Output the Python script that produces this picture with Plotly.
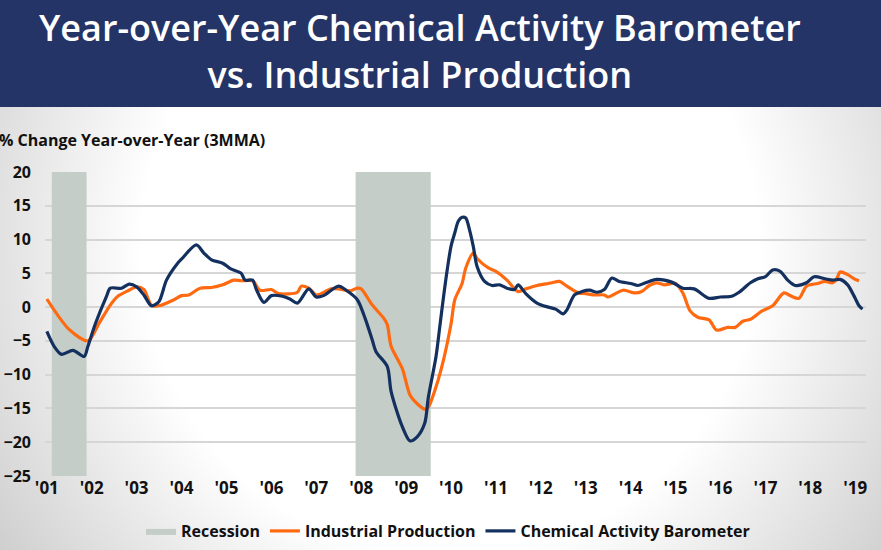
import base64
import plotly.graph_objects as go

# Industrial Production, % change y/y (3MMA)
ip_dates = [
    "2001-01", "2001-07", "2001-12",
    "2002-03", "2002-06", "2002-08", "2002-11",
    "2003-01", "2003-03", "2003-05", "2003-07", "2003-11",
    "2004-01", "2004-03", "2004-06", "2004-09", "2004-12",
    "2005-03", "2005-05", "2005-08", "2005-10",
    "2006-01", "2006-03", "2006-08", "2006-09", "2006-11",
    "2007-01", "2007-05", "2007-07", "2007-10", "2007-12",
    "2008-01", "2008-04", "2008-07", "2008-08", "2008-09", "2008-12",
    "2009-02", "2009-04", "2009-06", "2009-07", "2009-09", "2009-11",
    "2010-01", "2010-02", "2010-04", "2010-05", "2010-07", "2010-08", "2010-11",
    "2011-01", "2011-04", "2011-07", "2011-09", "2011-12",
    "2012-03", "2012-04", "2012-06", "2012-08", "2012-11",
    "2013-01", "2013-03", "2013-06", "2013-07", "2013-11",
    "2014-02", "2014-04", "2014-06", "2014-08", "2014-10",
    "2015-01", "2015-03", "2015-05", "2015-07", "2015-10", "2015-12",
    "2016-03", "2016-05", "2016-07", "2016-09", "2016-12",
    "2017-03", "2017-06", "2017-08", "2017-10", "2017-12",
    "2018-03", "2018-05", "2018-07", "2018-08", "2018-09", "2018-11",
    "2019-01", "2019-02",
]
ip_values = [
    1.2, -3.3, -5.0,
    -2.4, 0.3, 1.6, 2.5,
    3.0, 2.6, 0.3, 0.2, 1.1,
    1.7, 1.8, 2.8, 2.9, 3.3,
    4.0, 3.9, 3.9, 2.5,
    2.6, 2.0, 2.2, 3.1, 2.8,
    1.8, 2.7, 2.7, 2.4, 2.8,
    2.7, 0.3, -1.6, -2.6, -5.8, -9.1,
    -13.0, -14.3, -15.1, -14.8, -11.8, -7.8,
    -2.5, 1.1, 3.5, 5.8, 8.0, 7.2, 5.8,
    5.3, 4.0, 2.3, 2.7, 3.2,
    3.5, 3.6, 3.8, 3.1, 2.1,
    2.0, 1.8, 1.8, 1.5, 2.5,
    2.1, 2.3, 3.2, 3.6, 3.3,
    3.5, 2.1, -0.6, -1.5, -1.9, -3.4,
    -3.0, -3.0, -2.1, -1.8, -0.6,
    0.2, 2.1, 1.6, 1.3, 3.1,
    3.5, 3.8, 3.6, 4.1, 5.2, 4.8,
    4.1, 3.9,
]

# Chemical Activity Barometer, % change y/y (3MMA)
cab_dates = [
    "2001-01", "2001-03", "2001-05", "2001-08", "2001-11", "2001-12",
    "2002-02", "2002-05", "2002-06", "2002-09", "2002-11",
    "2003-01", "2003-03", "2003-05", "2003-07", "2003-09", "2003-12",
    "2004-01", "2004-05", "2004-07", "2004-09", "2004-12",
    "2005-02", "2005-05", "2005-06", "2005-08", "2005-09", "2005-11",
    "2006-01", "2006-04", "2006-06", "2006-08", "2006-11",
    "2007-01", "2007-03", "2007-07", "2007-09", "2007-12",
    "2008-02", "2008-04", "2008-05", "2008-08", "2008-09", "2008-12",
    "2009-02", "2009-04", "2009-06", "2009-07", "2009-09", "2009-10", "2009-11", "2009-12",
    "2010-01", "2010-02", "2010-03", "2010-04", "2010-05", "2010-06", "2010-07", "2010-08",
    "2010-10", "2010-12",
    "2011-02", "2011-04", "2011-06", "2011-07", "2011-09", "2011-12",
    "2012-03", "2012-05", "2012-07", "2012-08", "2012-10", "2012-12",
    "2013-02", "2013-04", "2013-06", "2013-08", "2013-10",
    "2014-01", "2014-03", "2014-05", "2014-08", "2014-12",
    "2015-03", "2015-06", "2015-10",
    "2016-01", "2016-04", "2016-06", "2016-09", "2016-11",
    "2017-01", "2017-03", "2017-05", "2017-07", "2017-09", "2017-12",
    "2018-02", "2018-05", "2018-07", "2018-09", "2018-11",
    "2019-01", "2019-02", "2019-03",
]
cab_values = [
    -3.6, -5.8, -7.0, -6.4, -7.3, -5.8,
    -2.4, 1.6, 2.8, 2.8, 3.4,
    3.0, 1.8, 0.2, 0.8, 4.0, 6.5,
    7.1, 9.2, 8.0, 7.0, 6.5,
    5.7, 5.0, 4.0, 4.0, 2.6, 0.7,
    1.7, 1.6, 1.2, 0.6, 2.7,
    1.5, 1.7, 3.1, 2.5, 1.1,
    -1.6, -4.9, -6.6, -8.8, -12.5, -17.7,
    -19.8, -19.2, -17.2, -13.3, -7.3, -3.0, 1.5, 5.5,
    9.0, 11.0, 12.7, 13.3, 13.2, 11.4, 9.0, 6.0,
    3.8, 3.2,
    3.3, 2.8, 2.6, 3.3, 2.0, 0.6,
    0.0, -0.3, -1.0, -0.4, 1.8, 2.3,
    2.5, 2.2, 2.6, 4.3, 3.8,
    3.5, 3.2, 3.6, 4.1, 3.7,
    2.8, 2.7, 1.3,
    1.5, 1.6, 2.2, 3.6, 4.2,
    4.5, 5.5, 5.3, 4.0, 3.2, 3.6,
    4.5, 4.2, 4.0, 4.1, 3.3,
    1.3, 0.2, -0.3,
]

# recession periods (shaded)
rec_start = ["2001-02-10", "2007-11-17"]
rec_end = ["2001-11-20", "2009-07-20"]

year_ticks = [f"{y}-01-01" for y in range(2001, 2020)]
year_labels = ["'01", "'02", "'03", "'04", "'05", "'06", "'07", "'08", "'09", "'10",
               "'11", "'12", "'13", "'14", "'15", "'16", "'17", "'18", "'19"]

Y_MIN, Y_MAX = -25, 20

# page geometry in pixels
W, H = 881, 550
L, R, T, B = 45, 15, 172, 74
PW, PH = W - L - R, H - T - B


def px(x):
    return (x - L) / PW


def py(y):
    return (H - B - y) / PH


FONT = "Open Sans"
NAVY = "#13305e"
ORANGE = "#ff6a10"
INK = "#111111"

# recession rectangles as one filled trace
rx, ry = [], []
for s, e in zip(rec_start, rec_end):
    rx += [s, s, e, e, s, None]
    ry += [Y_MIN, Y_MAX, Y_MAX, Y_MIN, Y_MIN, None]

fig = go.Figure()
fig.add_trace(go.Scatter(x=rx, y=ry, fill="toself", fillcolor="#c4cdc8",
                         mode="lines", line=dict(width=0), name="Recession",
                         hoverinfo="skip"))
fig.add_trace(go.Scatter(x=ip_dates, y=ip_values, mode="lines", name="Industrial Production",
                         line=dict(color=ORANGE, width=3.2, shape="spline", smoothing=0.8)))
fig.add_trace(go.Scatter(x=cab_dates, y=cab_values, mode="lines", name="Chemical Activity Barometer",
                         line=dict(color=NAVY, width=3.2, shape="spline", smoothing=0.8)))

# slide background: soft grey vignette below the banner
bg_h = H - 107
svg = (
    f'<svg xmlns="http://www.w3.org/2000/svg" width="{W}" height="{bg_h}">'
    '<defs><radialGradient id="g" gradientUnits="userSpaceOnUse" cx="450" cy="140" r="560">'
    '<stop offset="0" stop-color="#ffffff"/><stop offset="0.55" stop-color="#ffffff"/>'
    '<stop offset="1" stop-color="#cbcbcb"/></radialGradient></defs>'
    f'<rect width="{W}" height="{bg_h}" fill="url(#g)"/></svg>'
)
bg_src = "data:image/svg+xml;base64," + base64.b64encode(svg.encode()).decode()

fig.update_layout(
    width=W, height=H,
    margin=dict(l=L, r=R, t=T, b=B, autoexpand=False),
    paper_bgcolor="white",
    plot_bgcolor="rgba(0,0,0,0)",
    font=dict(family=FONT, color=INK),
    showlegend=True,
    legend=dict(orientation="h", x=px(448), xanchor="center", y=py(531), yanchor="middle",
                font=dict(size=16, weight="bold", color=INK),
                bgcolor="rgba(0,0,0,0)", traceorder="normal"),
    images=[dict(source=bg_src, xref="paper", yref="paper", x=px(0), y=py(107),
                 sizex=W / PW, sizey=bg_h / PH, xanchor="left", yanchor="top",
                 sizing="stretch", layer="below")],
    shapes=[dict(type="rect", xref="paper", yref="paper", x0=px(0), x1=px(W),
                 y0=py(107), y1=py(0), fillcolor="#253466", line=dict(width=0),
                 layer="above")],
    annotations=[
        dict(text="Year-over-Year Chemical Activity Barometer<br>vs. Industrial Production",
             xref="paper", yref="paper", x=px(420), y=py(51), xanchor="center",
             yanchor="middle", align="center", showarrow=False,
             font=dict(size=36, color="white", weight=600)),
        dict(text="% Change Year-over-Year (3MMA)", xref="paper", yref="paper",
             x=px(-3), y=py(140), xanchor="left", yanchor="middle", showarrow=False,
             font=dict(size=16, weight="bold", color=INK)),
    ],
)

fig.update_xaxes(type="date", range=["2000-12-17", "2019-03-30"], automargin=False,
                 tickvals=year_ticks, ticktext=year_labels, ticks="",
                 showgrid=False, zeroline=False, showline=False,
                 tickfont=dict(size=17, weight="bold", color=INK))
fig.update_yaxes(range=[Y_MIN, Y_MAX], dtick=5, ticks="", automargin=False,
                 showgrid=True, gridcolor="#d6d6d6", gridwidth=1.5,
                 zeroline=False, showline=False, ticklabelstandoff=13,
                 tickfont=dict(size=16, weight="bold", color=INK))

fig.write_html("out.html", config={"displayModeBar": False},
               post_script="document.body.style.margin = '0';")
